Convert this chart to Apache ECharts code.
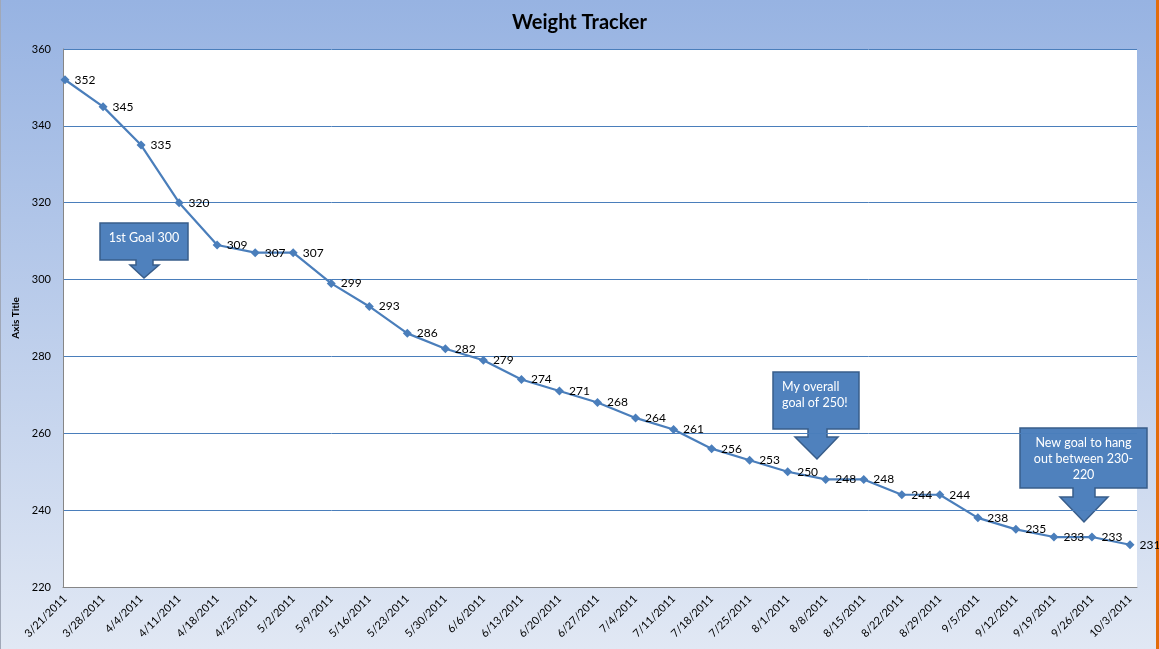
<!DOCTYPE html>
<html>
<head>
<meta charset="utf-8">
<script src="https://cdn.jsdelivr.net/npm/echarts@6/dist/echarts.min.js"></script>
<style>
  html, body { margin: 0; padding: 0; }
  #chart { width: 1159px; height: 649px; }
</style>
</head>
<body>
<div id="chart"></div>
<script>
// weekly weigh-ins
const dates = ['3/21/2011', '3/28/2011', '4/4/2011', '4/11/2011', '4/18/2011', '4/25/2011', '5/2/2011',
  '5/9/2011', '5/16/2011', '5/23/2011', '5/30/2011', '6/6/2011', '6/13/2011', '6/20/2011', '6/27/2011',
  '7/4/2011', '7/11/2011', '7/18/2011', '7/25/2011', '8/1/2011', '8/8/2011', '8/15/2011', '8/22/2011',
  '8/29/2011', '9/5/2011', '9/12/2011', '9/19/2011', '9/26/2011', '10/3/2011'];
const weights = [352, 345, 335, 320, 309, 307, 307, 299, 293, 286, 282, 279, 274, 271, 268,
  264, 261, 256, 253, 250, 248, 248, 244, 244, 238, 235, 233, 233, 231];
const yTicks = { min: 220, max: 360, step: 20 };
const notes = ['1st Goal 300', 'My overall\ngoal of 250!', 'New goal to hang\nout between 230-\n220'];

const font = 'Lato, "Open Sans", sans-serif';
const blue = '#4a7ebb';

const myChart = echarts.init(document.getElementById('chart'));

// box with a down arrow under it
function callout(x, y, w, h, shaftL, shaftR, headL, headR, shaftB, tipX, tipY, text, align) {
  return {
    type: 'group',
    children: [
      {
        type: 'polygon',
        shape: {
          points: [[x, y], [x + w, y], [x + w, y + h], [shaftR, y + h], [shaftR, shaftB], [headR, shaftB],
            [tipX, tipY], [headL, shaftB], [shaftL, shaftB], [shaftL, y + h], [x, y + h]]
        },
        style: { fill: '#4f81bd', stroke: '#385d8a', lineWidth: 1.5 }
      },
      {
        type: 'text',
        x: align === 'center' ? x + w / 2 : x + 9,
        y: y + 7,
        style: {
          text: text, fill: '#fff', font: '12.5px ' + font,
          align: align, lineHeight: 16
        }
      }
    ]
  };
}

myChart.setOption({
  backgroundColor: {
    type: 'linear', x: 0, y: 0, x2: 0, y2: 1,
    colorStops: [{ offset: 0, color: '#97b3e2' }, { offset: 1, color: '#e1e8f4' }]
  },
  title: {
    text: 'Weight Tracker',
    left: 'center',
    top: 8,
    textStyle: { fontFamily: font, fontSize: 20, fontWeight: 'bold', color: '#000' }
  },
  grid: [
    { left: 63, right: 22, top: 49, bottom: 62, show: true, backgroundColor: '#fff', borderWidth: 0 },
    { left: 65, right: 29, top: 49, bottom: 62 }
  ],
  xAxis: [
    {
      type: 'value', gridIndex: 0, min: 0, max: 1,
      axisLine: { show: true, lineStyle: { color: '#868686' } },
      axisTick: { show: false }, axisLabel: { show: false }, splitLine: { show: false }
    },
    {
      type: 'category', gridIndex: 1, data: dates, boundaryGap: false,
      axisLine: { show: false }, axisTick: { show: false },
      axisLabel: { rotate: 45, interval: 0, margin: 10, fontFamily: font, fontSize: 11, color: '#000' }
    }
  ],
  yAxis: [
    {
      type: 'value', gridIndex: 0, min: yTicks.min, max: yTicks.max, interval: yTicks.step,
      name: 'Axis Title', nameLocation: 'middle', nameRotate: 90, nameGap: 33,
      nameTextStyle: { fontFamily: font, fontSize: 10, fontWeight: 'bold', color: '#000' },
      axisLine: { show: true, lineStyle: { color: '#868686' } },
      axisTick: { show: false },
      axisLabel: { margin: 12, fontFamily: font, fontSize: 11, color: '#000' },
      splitLine: { lineStyle: { color: blue, width: 1 } }
    },
    {
      type: 'value', gridIndex: 1, min: yTicks.min, max: yTicks.max, show: false
    }
  ],
  series: [{
    type: 'line',
    xAxisIndex: 1, yAxisIndex: 1,
    data: weights,
    symbol: 'diamond', symbolSize: 9,
    lineStyle: { color: blue, width: 2.2 },
    itemStyle: { color: blue },
    label: { show: true, position: 'right', distance: 5, fontFamily: font, fontSize: 12, color: '#000' },
    animation: false
  }],
  graphic: [
    { type: 'rect', shape: { x: 1156, y: 0, width: 3, height: 649 }, style: { fill: '#e36c0a' } },
    { type: 'rect', shape: { x: 0, y: 0, width: 1, height: 649 }, style: { fill: '#a0a8b8' } },
    callout(100, 223, 88, 37, 136, 153, 130, 159, 265, 144, 278, notes[0], 'center'),
    callout(773, 372, 86, 57, 808, 827, 795, 838, 437, 817, 459, notes[1], 'left'),
    callout(1020, 428, 127, 60, 1073, 1095, 1060, 1108, 497, 1084, 522, notes[2], 'center')
  ]
});
</script>
</body>
</html>
